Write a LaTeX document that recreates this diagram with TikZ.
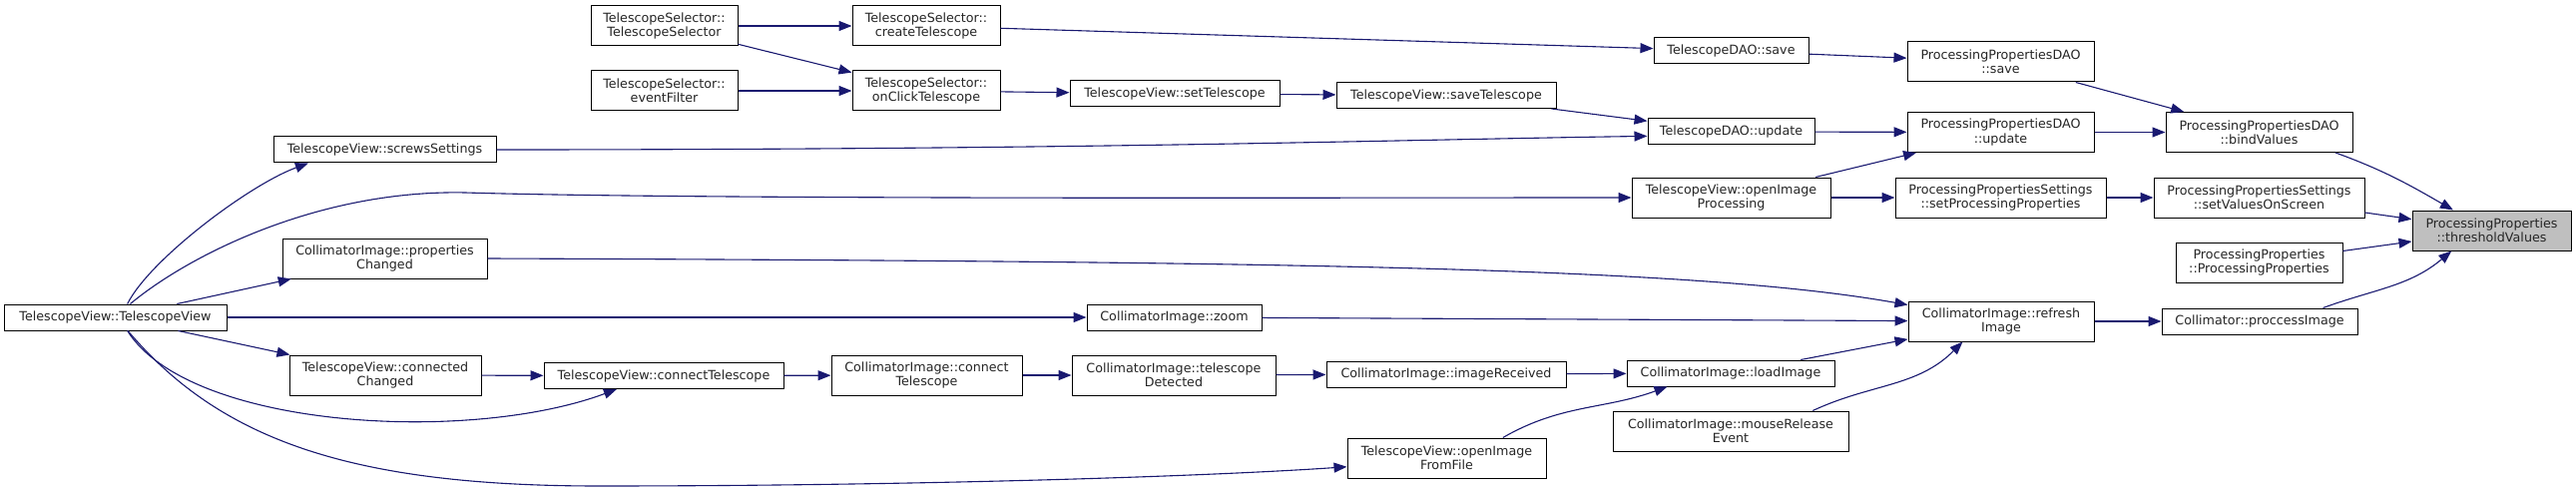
\documentclass[tikz,border=0pt]{standalone}
\usepackage{fontspec}
\setmainfont{DejaVu Sans}
\usetikzlibrary{arrows.meta}
\definecolor{edgeblue}{HTML}{191970}
\definecolor{hlgray}{HTML}{BFBFBF}
\newcommand{\fnfont}{\fontsize{12.7}{14.3}\selectfont}
\tikzset{
  fn/.style={draw=black,line width=1pt,fill=white,align=center,inner sep=0pt,font=\fnfont,text=black!85,minimum height=26pt},
  fntwo/.style={fn,minimum height=40pt},
  hl/.style={fntwo,fill=hlgray},
  call/.style={draw=edgeblue,line width=1.1pt,-{Triangle[length=13pt,width=10pt]}},
}

\begin{document}
\begin{tikzpicture}[x=1pt,y=1pt]
\useasboundingbox (0,0) rectangle (2581,-492);
\node[fntwo,minimum width=147pt] (tsCtor) at (665.5,-26) {TelescopeSelector::\\TelescopeSelector};
\node[fntwo,minimum width=147pt] (tsFilter) at (665.5,-91) {TelescopeSelector::\\eventFilter};
\node[fn,minimum width=223pt] (tvScrews) at (385.5,-150) {TelescopeView::screwsSettings};
\node[fntwo,minimum width=205pt] (ciPropChanged) at (385.5,-259) {CollimatorImage::properties\\Changed};
\node[fn,minimum width=223pt] (tvCtor) at (115.5,-318) {TelescopeView::TelescopeView};
\node[fntwo,minimum width=192pt] (tvConnChanged) at (386,-376) {TelescopeView::connected\\Changed};
\node[fn,minimum width=240pt] (tvConnect) at (665,-376.5) {TelescopeView::connectTelescope};
\node[fntwo,minimum width=191pt] (ciConnect) at (928.5,-376) {CollimatorImage::connect\\Telescope};
\node[fntwo,minimum width=148pt] (tsCreate) at (928,-26) {TelescopeSelector::\\createTelescope};
\node[fntwo,minimum width=148pt] (tsClick) at (928,-91) {TelescopeSelector::\\onClickTelescope};
\node[fn,minimum width=210pt] (tvSetTel) at (1177,-94) {TelescopeView::setTelescope};
\node[fn,minimum width=175pt] (ciZoom) at (1176.5,-318) {CollimatorImage::zoom};
\node[fntwo,minimum width=204pt] (ciDetected) at (1176,-376) {CollimatorImage::telescope\\Detected};
\node[fntwo,minimum width=199pt] (tvOpenFile) at (1449.5,-459) {TelescopeView::openImage\\FromFile};
\node[fn,minimum width=220pt] (tvSaveTel) at (1449,-95.5) {TelescopeView::saveTelescope};
\node[fn,minimum width=240pt] (ciReceived) at (1449,-375) {CollimatorImage::imageReceived};
\node[fn,minimum width=155pt] (daoSave) at (1734.5,-51) {TelescopeDAO::save};
\node[fn,minimum width=167pt] (daoUpdate) at (1734.5,-132) {TelescopeDAO::update};
\node[fntwo,minimum width=199pt] (tvOpenProc) at (1734.5,-198) {TelescopeView::openImage\\Processing};
\node[fn,minimum width=208pt] (ciLoad) at (1734,-374) {CollimatorImage::loadImage};
\node[fntwo,minimum width=236pt] (ciMouse) at (1734,-432) {CollimatorImage::mouseRelease\\Event};
\node[fntwo,minimum width=187pt] (ppdSave) at (2004.5,-62) {ProcessingPropertiesDAO\\::save};
\node[fntwo,minimum width=187pt] (ppdUpdate) at (2004.5,-132.5) {ProcessingPropertiesDAO\\::update};
\node[fntwo,minimum width=211pt] (ppsSetProc) at (2004.5,-198) {ProcessingPropertiesSettings\\::setProcessingProperties};
\node[fntwo,minimum width=186pt] (ciRefresh) at (2005,-322) {CollimatorImage::refresh\\Image};
\node[fntwo,minimum width=187pt] (ppdBind) at (2263.5,-132.5) {ProcessingPropertiesDAO\\::bindValues};
\node[fntwo,minimum width=211pt] (ppsOnScreen) at (2263.5,-198) {ProcessingPropertiesSettings\\::setValuesOnScreen};
\node[fntwo,minimum width=167pt] (ppCtor) at (2263.5,-263) {ProcessingProperties\\::ProcessingProperties};
\node[fn,minimum width=196pt] (colProc) at (2264,-322) {Collimator::proccessImage};
\node[hl,minimum width=159pt] (ppThreshold) at (2496.5,-231) {ProcessingProperties\\::thresholdValues};
\draw[call] (tsCtor) -- (tsCreate);
\draw[call] (tsCtor) -- (tsClick);
\draw[call] (tsFilter) -- (tsClick);
\draw[call] (tsCreate) -- (daoSave);
\draw[call] (tsClick) -- (tvSetTel);
\draw[call] (tvSetTel) -- (tvSaveTel);
\draw[call] (tvSaveTel) -- (daoUpdate);
\draw[call] (tvScrews.east) .. controls (1100,-150) and (1400,-140) .. (daoUpdate.183);
\draw[call] (daoSave) -- (ppdSave);
\draw[call] (daoUpdate) -- (ppdUpdate);
\draw[call] (tvOpenProc) -- (ppdUpdate);
\draw[call] (tvOpenProc) -- (ppsSetProc);
\draw[call] (ppdSave) -- (ppdBind);
\draw[call] (ppdUpdate) -- (ppdBind);
\draw[call] (ppsSetProc) -- (ppsOnScreen);
\draw[call] (ppdBind.-15) to[out=-20,in=150] (ppThreshold.152);
\draw[call] (ppsOnScreen) -- (ppThreshold);
\draw[call] (ppCtor) -- (ppThreshold);
\draw[call] (colProc.12) to[out=20,in=220] (ppThreshold.207);
\draw[call] (ciRefresh) -- (colProc);
\draw[call] (ciPropChanged.east) .. controls (1300,-262) and (1700,-268) .. (ciRefresh.170);
\draw[call] (ciZoom) -- (ciRefresh);
\draw[call] (ciLoad) -- (ciRefresh);
\draw[call] (ciMouse.14) to[out=25,in=225] (ciRefresh.208);
\draw[call] (ciReceived) -- (ciLoad);
\draw[call] (tvOpenFile.20) to[out=30,in=200] (ciLoad.192);
\draw[call] (ciDetected) -- (ciReceived);
\draw[call] (ciConnect) -- (ciDetected);
\draw[call] (tvConnect) -- (ciConnect);
\draw[call] (tvConnChanged) -- (tvConnect);
\draw[call] (tvCtor.48) .. controls (150,-260) and (250,-185) .. (tvScrews.190);
\draw[call] (tvCtor.42) .. controls (190,-255) and (320,-190) .. (466,-193) .. controls (700,-200) and (1300,-198) .. (tvOpenProc.west);
\draw[call] (tvCtor) -- (ciPropChanged);
\draw[call] (tvCtor) -- (ciZoom);
\draw[call] (tvCtor) -- (tvConnChanged);
\draw[call] (tvCtor.-48) .. controls (190,-430) and (470,-445) .. (tvConnect.196);
\draw[call] (tvCtor.-47) .. controls (220,-440) and (350,-487) .. (600,-487) .. controls (900,-487) and (1200,-478) .. (tvOpenFile.185);
\end{tikzpicture}
\end{document}
